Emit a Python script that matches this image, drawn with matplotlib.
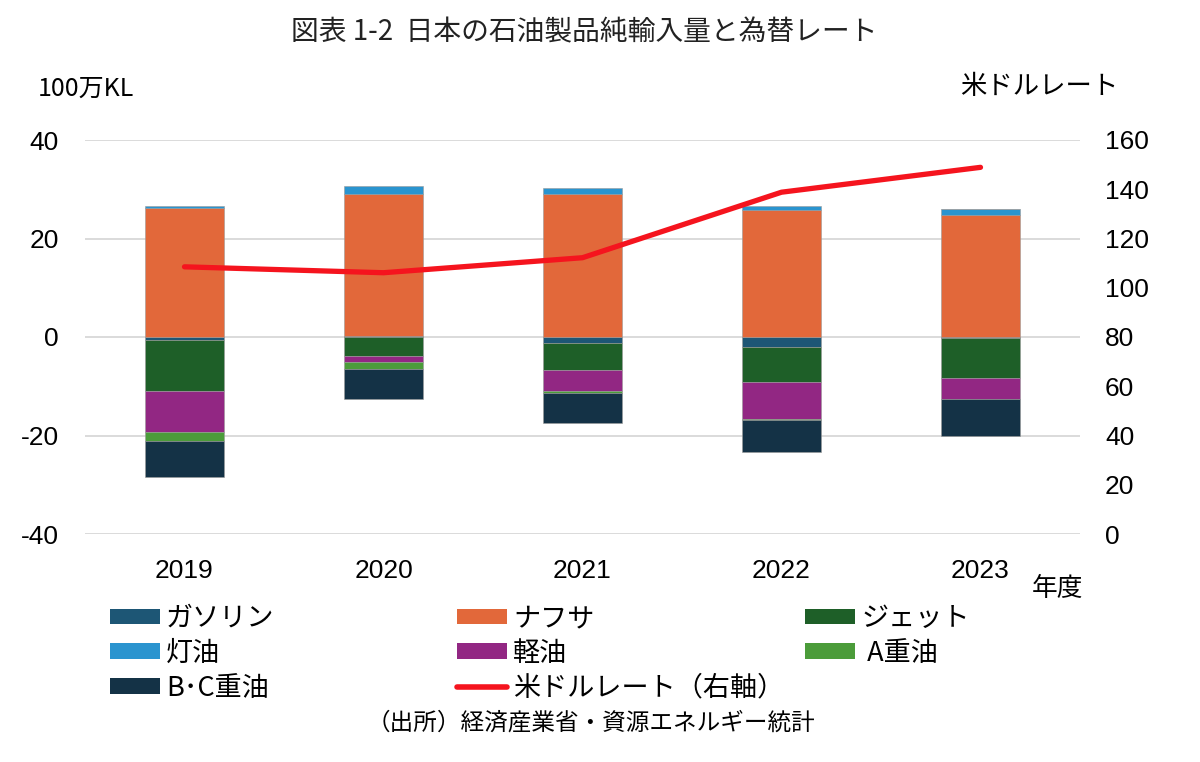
import matplotlib
matplotlib.use("Agg")
import matplotlib.pyplot as plt
import numpy as np
from matplotlib.patches import Patch
from matplotlib.lines import Line2D

plt.rcParams['font.family'] = ['Noto Sans CJK JP', 'DejaVu Sans']
plt.rcParams['axes.unicode_minus'] = False

# data (100万KL, negative = net export)
years = ["2019", "2020", "2021", "2022", "2023"]
gasoline = [-0.7, 0.3, -1.3, -2.1, -0.2]
naphtha = [26.2, 28.8, 29.1, 25.7, 24.7]
jet = [-10.3, -3.8, -5.5, -7.0, -8.2]
kerosene = [0.5, 1.5, 1.2, 0.9, 1.2]
gasoil = [-8.3, -1.3, -4.2, -7.6, -4.2]
a_heavy = [-1.8, -1.4, -0.3, -0.1, 0.0]
bc_heavy = [-7.4, -6.0, -6.1, -6.5, -7.5]
usd_rate = [108.5, 106.1, 112.2, 138.8, 148.9]

series_names = ["ガソリン", "ナフサ", "ジェット", "灯油", "軽油", "A重油", "B･C重油"]
series_vals = [gasoline, naphtha, jet, kerosene, gasoil, a_heavy, bc_heavy]
colors = ["#1d5675", "#e2683a", "#1e5f28", "#2a94cf", "#922783", "#4b9c3a", "#143246"]
line_color = "#f5141e"

fig = plt.figure(figsize=(12, 7.62), dpi=100)
ax = fig.add_axes([85 / 1200, 1 - 534 / 762, 995 / 1200, 394 / 762])

x = np.arange(len(years))
pos_base = np.zeros(len(years))
neg_base = np.zeros(len(years))
for name, vals, c in zip(series_names, series_vals, colors):
    v = np.array(vals, dtype=float)
    bottom = np.where(v >= 0, pos_base, neg_base)
    ax.bar(x, v, 0.4, bottom=bottom, color=c, edgecolor="#9a9a9a", linewidth=0.4, zorder=2)
    pos_base = pos_base + np.where(v >= 0, v, 0)
    neg_base = neg_base + np.where(v < 0, v, 0)

ax.set_xlim(-0.5, len(years) - 0.5)
ax.set_ylim(-40, 40)
ax.set_yticks([-40, -20, 0, 20, 40])
ax.yaxis.grid(True, color="#d4d4d4", linewidth=1.2, zorder=0)
ax.set_axisbelow(True)
for s in ax.spines.values():
    s.set_visible(False)
ax.tick_params(axis="both", length=0, labelsize=19)
ax.tick_params(axis="y", pad=19)
ax.tick_params(axis="x", pad=18)
ax.set_xticks(x)
ax.set_xticklabels(years)
for lbl in ax.get_xticklabels() + ax.get_yticklabels():
    lbl.set_family("Liberation Sans")

ax2 = ax.twinx()
ax2.plot(x, usd_rate, color=line_color, linewidth=3.8, solid_capstyle="round", zorder=5)
ax2.set_ylim(0, 160)
ax2.set_yticks(range(0, 161, 20))
for s in ax2.spines.values():
    s.set_visible(False)
ax2.tick_params(axis="y", length=0, labelsize=19, pad=18)
for lbl in ax2.get_yticklabels():
    lbl.set_family("Liberation Sans")

# texts
fig.text(584 / 1200, 1 - 32 / 762, "図表 1-2  日本の石油製品純輸入量と為替レート",
         ha="center", va="center", fontsize=20, color="#222222")
fig.text(38 / 1200, 1 - 89 / 762, "100万KL", ha="left", va="center", fontsize=18)
fig.text(1118 / 1200, 1 - 87 / 762, "米ドルレート", ha="right", va="center", fontsize=19)
fig.text(1058 / 1200, 1 - 589 / 762, "年度", ha="center", va="center", fontsize=18.5)
fig.text(591 / 1200, 1 - 723 / 762, "（出所）経済産業省・資源エネルギー統計",
         ha="center", va="center", fontsize=17)

# legend, three columns placed by hand
def patch(i):
    return Patch(facecolor=colors[i], edgecolor="none")

columns = [
    ([patch(0), patch(3), patch(6)], [series_names[0], series_names[3], series_names[6]], 110),
    ([patch(1), patch(4), Line2D([], [], color=line_color, linewidth=4, solid_capstyle="round")],
     [series_names[1], series_names[4], "米ドルレート（右軸）"], 457),
    ([patch(2), patch(5)], [series_names[2], " " + series_names[5]], 805),
]
for handles, labels, xpix in columns:
    fig.legend(handles, labels, loc="upper left",
               bbox_to_anchor=(xpix / 1200, 1 - 605 / 762),
               frameon=False, fontsize=19.5, handlelength=1.85, handleheight=0.52,
               handletextpad=0.22, labelspacing=0.29, borderpad=0, borderaxespad=0)

fig.savefig("out.png", dpi=100)
